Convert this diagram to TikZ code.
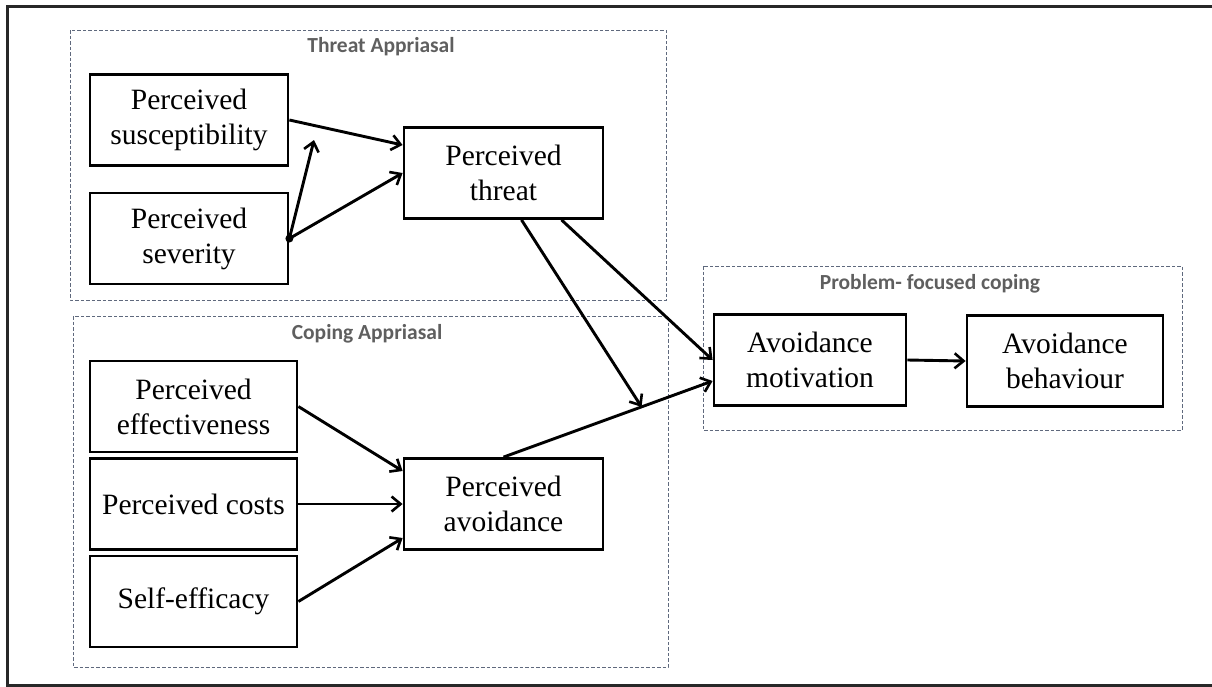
\documentclass[tikz,border=0pt]{standalone}
\usepackage{fontspec}
\setmainfont{Liberation Serif}
\newfontfamily\titlefont{Carlito}
\usetikzlibrary{arrows.meta,calc}
\definecolor{framegray}{RGB}{40,40,40}
\definecolor{dashgray}{RGB}{95,105,125}
\definecolor{titlegray}{RGB}{95,95,95}
\begin{document}
\begin{tikzpicture}[x=1pt,y=-1pt,
  concept/.style={draw=black, line width=2.8pt, minimum height=91pt, align=center,
    font=\fontsize{29.5}{35}\selectfont, inner sep=0pt},
  group/.style={draw=dashgray, line width=0.9pt, dash pattern=on 3.5pt off 2pt},
  grouptitle/.style={font=\titlefont\bfseries\fontsize{21.5}{24}\selectfont, text=titlegray},
  link/.style={line width=2.9pt, -{Straight Barb[length=9pt,width=15pt,line width=2.6pt]}},
]
\useasboundingbox (0,0) rectangle (1212,686);
% outer frame (open on the right)
\draw[framegray, line width=3pt] (1214,6) -- (7,6) -- (7,685) -- (1214,685);

% dashed group boxes
\draw[group] (70,30) rectangle (666,300);
\draw[group] (73,316) rectangle (668,667);
\draw[group] (703,266) rectangle (1182,430);
\node[grouptitle] (t1) at (381,47) {Threat Appriasal};
\node[grouptitle] (t2) at (367,334) {Coping Appriasal};
\node[grouptitle] (t3) at (930,284) {Problem- focused coping};

% constructs
\node[concept, minimum width=198pt] (sus) at (189,120) {Perceived\\susceptibility};
\node[concept, minimum width=198pt] (sev) at (189,238.5) {Perceived\\severity};
\node[concept, minimum width=199pt] (thr) at (503.5,173) {Perceived\\threat};
\node[concept, minimum width=207pt] (eff) at (193.5,406.5) {Perceived\\effectiveness};
\node[concept, minimum width=207pt] (cst) at (193.5,504) {Perceived costs};
\node[concept, minimum width=207pt] (slf) at (193.5,601.5) {Self-efficacy};
\node[concept, minimum width=199pt] (avd) at (503.5,504) {Perceived\\avoidance};
\node[concept, minimum width=192pt] (mot) at (810,360) {Avoidance\\motivation};
\node[concept, minimum width=196pt] (beh) at (1065,361) {Avoidance\\behaviour};

% helper points
\coordinate (up) at (314,140);
\coordinate (jn) at ($(avd.north)!0.66!($(mot.west)+(0,21)$)$);

% threat appraisal links
\fill (sev.east) circle (4pt);
\draw[link] (sus.east) -- ($(thr.west)+(0,-28)$);
\draw[link] (sev.east) -- (up);
\draw[link] (sev.east) -- (thr.west);

% coping appraisal links
\draw[link] (eff.east) -- ($(avd.west)+(0,-33)$);
\draw[link] (cst.east) -- (avd.west);
\draw[link] (slf.east) -- ($(avd.west)+(0,34)$);

% links into problem-focused coping
\draw[link] ($(thr.south)+(18,0)$) -- (jn);
\draw[link] ($(thr.south)+(58,0)$) -- (mot.west);
\draw[link] (avd.north) -- ($(mot.west)+(0,21)$);
\draw[link] (mot.east) -- (beh.west);
\end{tikzpicture}
\end{document}
